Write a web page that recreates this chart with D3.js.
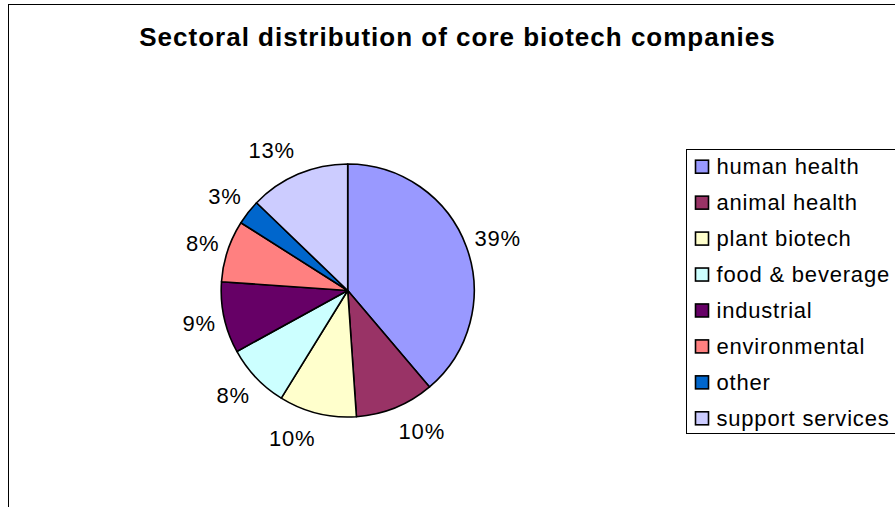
<!DOCTYPE html>
<html>
<head>
<meta charset="utf-8">
<script src="https://cdn.jsdelivr.net/npm/d3@7"></script>
<style>
  html, body { margin: 0; padding: 0; background: #fff; }
  svg { display: block; font-family: "Liberation Sans", Arial, sans-serif; }
</style>
</head>
<body>
<div id="chart"></div>
<script>
const title = 'Sectoral distribution of core biotech companies';
const sectors = ['human health', 'animal health', 'plant biotech', 'food & beverage',
  'industrial', 'environmental', 'other', 'support services'];
const shares = [38.8, 10.1, 9.9, 8.2, 9.1, 7.9, 3.2, 12.8];
const colors = ['#9999FF', '#993366', '#FFFFCC', '#CCFFFF', '#660066', '#FF8080', '#0066CC', '#CCCCFF'];

const width = 895, height = 507;
const cx = 347.7, cy = 290.5, radius = 126.5;

const svg = d3.select('#chart').append('svg')
  .attr('width', width)
  .attr('height', height);

// chart area frame (cut off at the right and bottom)
svg.append('rect')
  .attr('x', 8.5).attr('y', 4.5)
  .attr('width', width + 20).attr('height', height + 20)
  .attr('fill', '#fff')
  .attr('stroke', '#000')
  .attr('stroke-width', 1);

svg.append('text')
  .attr('x', 457.5).attr('y', 46)
  .attr('text-anchor', 'middle')
  .attr('font-size', 26)
  .attr('font-weight', 'bold')
  .attr('letter-spacing', 1)
  .text(title);

const total = d3.sum(shares);
const pie = d3.pie().sort(null).value(d => d)(shares);
const arc = d3.arc().innerRadius(0).outerRadius(radius);

const g = svg.append('g').attr('transform', `translate(${cx},${cy})`);

g.selectAll('path.slice')
  .data(pie)
  .join('path')
  .attr('class', 'slice')
  .attr('d', arc)
  .attr('fill', (d, i) => colors[i])
  .attr('stroke', '#000')
  .attr('stroke-width', 1.6)
  .attr('stroke-linejoin', 'round');

// percentage labels outside the pie, pushed sideways by half their width
const labelRx = 135, labelRy = 152;
const labels = g.selectAll('text.pct')
  .data(pie)
  .join('text')
  .attr('class', 'pct')
  .attr('font-size', 22)
  .attr('letter-spacing', 0.8)
  .attr('text-anchor', 'middle')
  .attr('dominant-baseline', 'central')
  .text(d => Math.round(d.value / total * 100) + '%');

labels.each(function (d) {
  const a = (d.startAngle + d.endAngle) / 2;
  const dx = Math.sin(a), dy = -Math.cos(a);
  const hw = this.getComputedTextLength() / 2;
  d3.select(this)
    .attr('x', dx * labelRx + Math.sign(dx) * hw)
    .attr('y', dy * labelRy);
});

// legend
const legendX = 686.5, legendTop = 149.5, legendBottom = 433.5;
svg.append('rect')
  .attr('x', legendX).attr('y', legendTop)
  .attr('width', width).attr('height', legendBottom - legendTop)
  .attr('fill', '#fff')
  .attr('stroke', '#000')
  .attr('stroke-width', 1);

const rowY = d3.scalePoint().domain(sectors).range([166.7, 418.3]);

const rows = svg.selectAll('g.legend-row')
  .data(sectors)
  .join('g')
  .attr('class', 'legend-row')
  .attr('transform', d => `translate(${legendX},${rowY(d)})`);

rows.append('rect')
  .attr('x', 9).attr('y', -6.5)
  .attr('width', 13).attr('height', 13)
  .attr('fill', (d, i) => colors[i])
  .attr('stroke', '#000')
  .attr('stroke-width', 1.6);

rows.append('text')
  .attr('x', 30)
  .attr('dominant-baseline', 'central')
  .attr('font-size', 22)
  .attr('letter-spacing', 0.8)
  .text(d => d);
</script>
</body>
</html>
